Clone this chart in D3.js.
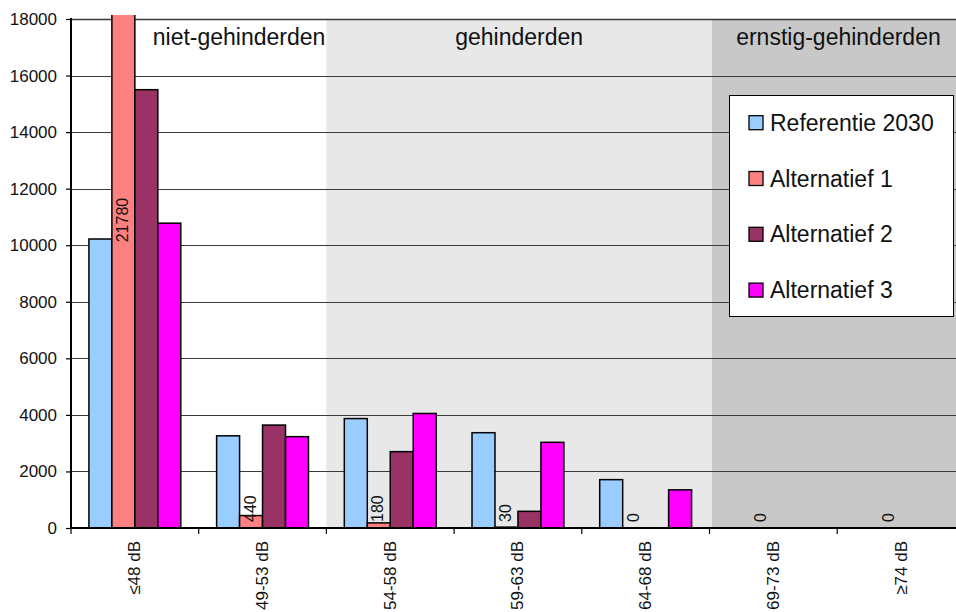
<!DOCTYPE html>
<html>
<head>
<meta charset="utf-8">
<script src="https://cdn.jsdelivr.net/npm/d3@7"></script>
<style>
  html, body { margin: 0; padding: 0; background: #fff; }
  svg { display: block; font-family: "Liberation Sans", Arial, sans-serif; }
</style>
</head>
<body>
<svg id="chart" width="956" height="612"></svg>
<script>
// Noise classes (x axis)
const categories = ["≤48 dB", "49-53 dB", "54-58 dB", "59-63 dB", "64-68 dB", "69-73 dB", "≥74 dB"];

// Number of people per noise class, per scenario
const seriesNames = ["Referentie 2030", "Alternatief 1", "Alternatief 2", "Alternatief 3"];
const referentie2030 = [10220, 3260, 3870, 3370, 1710, 0, 0];
const alternatief1   = [21780, 440, 180, 30, 0, 0, 0];
const alternatief2   = [15500, 3640, 2700, 590, 0, 0, 0];
const alternatief3   = [10780, 3230, 4050, 3030, 1350, 0, 0];
const seriesColors = ["#99ccff", "#ff8080", "#993366", "#ff00ff"];

// Series whose values are printed on the bars
const labelledSeries = "Alternatief 1";

// Annoyance zones, spanning category index ranges
const zoneLabels = ["niet-gehinderden", "gehinderden", "ernstig-gehinderden"];
const zoneStart = [0, 2, 5];
const zoneEnd = [2, 5, 7];
const zoneColors = ["#ffffff", "#e8e8e8", "#c8c8c8"];

// Y axis ticks
const yTicks = [0, 2000, 4000, 6000, 8000, 10000, 12000, 14000, 16000, 18000];

(function () {
  const seriesValues = [referentie2030, alternatief1, alternatief2, alternatief3];
  const rows = categories.map((c, i) => ({
    category: c,
    values: seriesNames.map((s, k) => ({ series: s, value: seriesValues[k][i], color: seriesColors[k] }))
  }));

  const svg = d3.select("#chart");
  const W = 956;
  const plotLeft = 71, plotTop = 19, plotBottom = 528;
  const step = 127.7;
  const plotRight = plotLeft + step * categories.length; // plot runs past the visible edge

  const x0 = d3.scaleBand().domain(categories).range([plotLeft, plotRight]).padding(0);
  const x1 = d3.scaleBand().domain(seriesNames).range([0, x0.bandwidth()]).paddingInner(0).paddingOuter(0.78);
  const y = d3.scaleLinear().domain([0, 18000]).range([plotBottom, plotTop]);

  // Zone backgrounds
  const zones = zoneLabels.map((l, i) => ({
    label: l,
    x0: plotLeft + zoneStart[i] * x0.step(),
    x1: plotLeft + zoneEnd[i] * x0.step(),
    color: zoneColors[i]
  }));
  zones[1].x1 += 2.5; // darkest zone starts just past the 64-68 dB boundary
  zones[2].x0 += 2.5;

  svg.append("g").selectAll("rect").data(zones).join("rect")
    .attr("x", d => d.x0).attr("y", plotTop)
    .attr("width", d => d.x1 - d.x0).attr("height", plotBottom - plotTop)
    .attr("fill", d => d.color);

  // Gridlines
  svg.append("g").selectAll("line").data(yTicks.filter(t => t > 0)).join("line")
    .attr("x1", plotLeft).attr("x2", W)
    .attr("y1", d => Math.round(y(d)) + 0.5).attr("y2", d => Math.round(y(d)) + 0.5)
    .attr("stroke", "#3a3a3a").attr("stroke-width", d => d === 18000 ? 1.6 : 1.1);

  // Zone labels
  svg.append("g").selectAll("text").data(zones).join("text")
    .attr("x", (d, i) => i === 0 ? d.x1 - 1 : (d.x0 + d.x1) / 2)
    .attr("y", 45)
    .attr("text-anchor", (d, i) => i === 0 ? "end" : "middle")
    .attr("font-size", 23).attr("fill", "#111")
    .text(d => d.label);

  // Bars
  svg.append("clipPath").attr("id", "plotClip")
    .append("rect").attr("x", plotLeft).attr("y", plotTop - 4)
    .attr("width", W - plotLeft).attr("height", plotBottom - plotTop + 4);

  const groups = svg.append("g").attr("clip-path", "url(#plotClip)")
    .selectAll("g").data(rows).join("g")
    .attr("transform", d => `translate(${x0(d.category)},0)`);

  groups.selectAll("rect").data(d => d.values.filter(v => v.value > 0)).join("rect")
    .attr("x", d => x1(d.series))
    .attr("y", d => y(d.value))
    .attr("width", x1.bandwidth())
    .attr("height", d => plotBottom - y(d.value))
    .attr("fill", d => d.color)
    .attr("stroke", "#000").attr("stroke-width", 1.5);

  // Value labels: centred on the bar, kept clear of the axis
  const labelSize = 16;
  svg.append("g").selectAll("text").data(rows).join("text")
    .each(function (d) {
      const v = d.values.find(e => e.series === labelledSeries).value;
      const txt = String(v);
      const len = txt.length * 0.556 * labelSize;
      let cy = y(v / 2);
      if (cy + len / 2 > plotBottom - 6) cy = plotBottom - 6 - len / 2;
      const cx = x0(d.category) + x1(labelledSeries) + x1.bandwidth() / 2 - 1;
      d3.select(this)
        .attr("transform", `translate(${cx},${cy}) rotate(-90)`)
        .attr("text-anchor", "middle")
        .attr("dominant-baseline", "central")
        .attr("font-size", labelSize).attr("fill", "#111")
        .text(txt);
    });

  // Y axis
  const yAxis = svg.append("g").attr("transform", `translate(${plotLeft},0)`)
    .call(d3.axisLeft(y).tickValues(yTicks).tickSize(5).tickPadding(9).tickFormat(d3.format("d")));
  yAxis.select(".domain").remove();
  yAxis.selectAll(".tick line").attr("stroke", "#000").attr("stroke-width", 1.2);
  yAxis.selectAll(".tick text").attr("font-size", 17).attr("fill", "#111")
    .attr("font-family", "Liberation Sans, Arial, sans-serif");
  svg.append("line").attr("x1", plotLeft).attr("x2", plotLeft).attr("y1", plotTop - 1).attr("y2", plotBottom + 1)
    .attr("stroke", "#000").attr("stroke-width", 2);

  // X axis
  const xAxis = svg.append("g").attr("transform", `translate(0,${plotBottom})`)
    .call(d3.axisBottom(x0).tickSize(0).tickPadding(0));
  xAxis.select(".domain").remove();
  xAxis.selectAll(".tick text")
    .attr("font-size", 17).attr("fill", "#111").attr("font-family", "Liberation Sans, Arial, sans-serif")
    .attr("text-anchor", "end").attr("dy", null).attr("y", 0)
    .attr("transform", "translate(0,13) rotate(-90)")
    .attr("dominant-baseline", "central");
  svg.append("g").selectAll("line").data(d3.range(categories.length + 1)).join("line")
    .attr("x1", i => plotLeft + i * x0.step()).attr("x2", i => plotLeft + i * x0.step())
    .attr("y1", plotBottom).attr("y2", plotBottom + 6)
    .attr("stroke", "#000").attr("stroke-width", 1.2);
  svg.append("line").attr("x1", plotLeft).attr("x2", W).attr("y1", plotBottom).attr("y2", plotBottom)
    .attr("stroke", "#000").attr("stroke-width", 2);

  // Legend
  const legend = svg.append("g");
  legend.append("rect").attr("x", 729.5).attr("y", 95.5).attr("width", 224).attr("height", 221)
    .attr("fill", "#fff").attr("stroke", "#000").attr("stroke-width", 1);
  const items = legend.selectAll("g").data(seriesNames).join("g")
    .attr("transform", (d, i) => `translate(749,${122.7 + i * 55.8})`);
  items.append("rect").attr("x", 0).attr("y", -7).attr("width", 14).attr("height", 14)
    .attr("fill", (d, i) => seriesColors[i]).attr("stroke", "#000").attr("stroke-width", 1.3);
  items.append("text").attr("x", 21).attr("y", 0).attr("dominant-baseline", "central")
    .attr("font-size", 23).attr("fill", "#111").text(d => d);
})();
</script>
</body>
</html>
